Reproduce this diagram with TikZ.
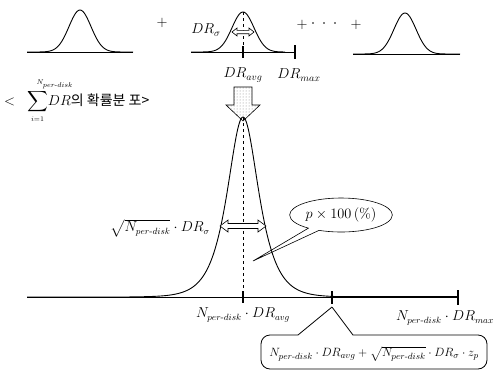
\documentclass[tikz,border=0pt]{standalone}
\usepackage{amsmath,mathtools}
\usepackage{fontspec}
\newfontfamily\kr{Noto Sans CJK KR}
\usetikzlibrary{shapes.callouts,patterns}
\begin{document}
\begin{tikzpicture}[x=1pt,y=-1pt,
  curve/.style={line width=0.9pt},
  base/.style={line width=0.6pt},
  tick/.style={line width=2pt},
  endtick/.style={line width=1.4pt},
  hollow/.style={draw,fill=white,line width=0.6pt},
  lbl/.style={font=\fontsize{14}{16}\selectfont, inner sep=1pt},
  nlbl/.style={font=\fontsize{13.5}{16}\selectfont, inner sep=1pt}]
\useasboundingbox (0,0) rectangle (496,373);
% ---------- top row ----------
% curve 1
\draw[base] (27,52) -- (133,52);
\draw[curve] plot[domain=27:133,samples=80] (\x,{52-42*exp(-((\x-80)/11)^2/2)});
\node[lbl] (plus1) at (162,23) {$+$};
% curve 2
\draw[base] (191,52) -- (295,52);
\draw[curve] plot[domain=191:285,samples=80] (\x,{52-40*exp(-((\x-243)/11)^2/2)});
\draw[dashed,line width=0.6pt] (243,12) -- (243,52);
\draw[tick] (243,46) -- (243,58);
\draw[endtick] (295,45) -- (295,59);
\draw[hollow] (232,32) -- (237,28) -- (237,30.3) -- (249,30.3) -- (249,28) -- (254,32) -- (249,36) -- (249,33.7) -- (237,33.7) -- (237,36) -- cycle;
\node[lbl] (drs) at (206,30) {$DR_\sigma$};
\node[lbl] (dravg) at (243,75) {$DR_{avg}$};
\node[lbl] (drmax) at (299,75) {$DR_{max}$};
% + . . . +
\node[lbl] (plus2) at (302,25) {$+$};
\fill (313,23) circle (0.9) (324,23) circle (0.9) (335,23) circle (0.9);
\node[lbl] (plus3) at (356,25) {$+$};
% curve 4
\draw[base] (353,54) -- (460,54);
\draw[curve] plot[domain=353:460,samples=80] (\x,{54-41*exp(-((\x-405)/11)^2/2)});
% ---------- block arrow ----------
\path[draw,line width=0.6pt,pattern=dots,pattern color=gray] (234,87) -- (252,87) -- (252,105) -- (260,105) -- (243,121) -- (226,105) -- (234,105) -- cycle;
% ---------- sum label ----------
\node[lbl,anchor=west,inner sep=0pt] (sumlbl) at (4,101) {$<\;\;\displaystyle\sum_{\scriptscriptstyle i=1}^{\mathrlap{\hspace{-1pt}\scriptscriptstyle N_{per\text{-}disk}}}\!DR${\kr 의 확률분 포>}};
% ---------- big curve ----------
\draw[base] (27,297) -- (458,297);
\draw[line width=1.6pt] (332,297) -- (458,297);
\draw[curve] (27,297) -- (130,297) -- plot[domain=130:345,samples=200] (\x,{297-180/cosh((\x-243)/14)});
\draw[dashed,line width=0.6pt] (243,117) -- (243,297);
\draw[tick] (243,291) -- (243,303);
\draw[line width=2.4pt] (332,291) -- (332,304);
\draw[endtick] (458,290) -- (458,305);
\draw[hollow] (220,226) -- (228,220) -- (228,223.5) -- (258,223.5) -- (258,220) -- (266,226) -- (258,232) -- (258,228.5) -- (228,228.5) -- (228,232) -- cycle;
\node[nlbl,anchor=east] (sqrtlbl) at (211,228) {$\sqrt{N_{per\text{-}disk}}\cdot DR_\sigma$};
\coordinate (tip) at (253,261);
\node[lbl,ellipse callout,draw,line width=0.6pt,callout absolute pointer={(tip)},callout pointer arc=14,minimum width=82pt,minimum height=34pt] (callout) at (341,215) {$p\times 100\,(\%)$};
\node[nlbl] (navg) at (243,315) {$N_{per\text{-}disk}\cdot DR_{avg}$};
\node[nlbl,anchor=east] (nmax) at (495,318) {$N_{per\text{-}disk}\cdot DR_{max}$};
% ---------- bracket box ----------
\coordinate (ptip) at (332,307);
\draw[line width=0.8pt] (ptip) -- (298,335) [rounded corners=9pt] -- (261,335) -- (261,369) -- (487,369) -- (487,335) [sharp corners] -- (353,335) -- (ptip);
\node[font=\fontsize{12.6}{15}\selectfont,inner sep=1pt] (boxtxt) at (374,354) {$N_{per\text{-}disk}\cdot DR_{avg}+\sqrt{N_{per\text{-}disk}}\cdot DR_\sigma\cdot z_p$};
\end{tikzpicture}
\end{document}
